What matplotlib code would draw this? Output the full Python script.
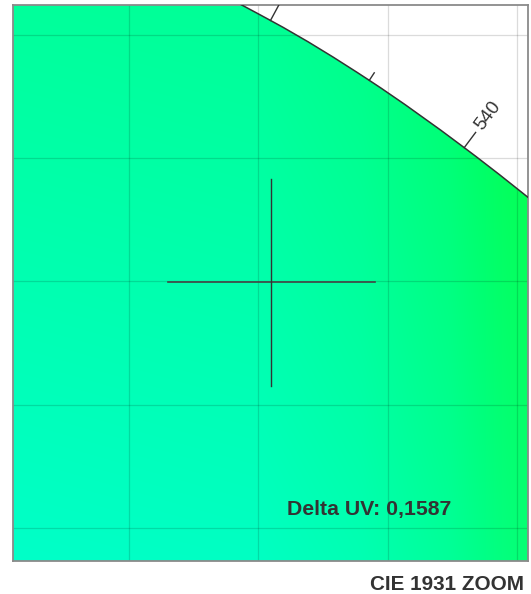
import numpy as np
import matplotlib
matplotlib.use("Agg")
import matplotlib.pyplot as plt
from matplotlib.path import Path
from matplotlib.patches import PathPatch

# CIE 1931 spectral locus (2 deg observer), chromaticity x, y
wavelengths = [505, 510, 515, 520, 525, 530, 535, 540, 545, 550, 555, 560]
locus_x = [0.0039, 0.0139, 0.0389, 0.0743, 0.1142, 0.1547, 0.1929, 0.2296, 0.2658, 0.3016, 0.3373, 0.3731]
locus_y = [0.6548, 0.7502, 0.8120, 0.8338, 0.8262, 0.8059, 0.7816, 0.7543, 0.7243, 0.6923, 0.6589, 0.6245]

# measured point (crosshair) and result text
point_x = 0.155
point_y = 0.6996
delta_uv = "0,1587"

title = "CIE 1931 ZOOM"

W, H = 531, 594
fig = plt.figure(figsize=(W / 100, H / 100), dpi=100)
ax = fig.add_axes([13 / W, 33 / H, 515 / W, 556 / H])
xlim = (0.05516, 0.25425)
ylim = (0.58661, 0.81217)
ax.set_xlim(*xlim)
ax.set_ylim(*ylim)


def smooth_path(xs, ys, extra=None):
    """Catmull-Rom curve through the data points, as cubic Bezier segments."""
    P = np.column_stack([xs, ys])
    verts = [P[0]]
    codes = [Path.MOVETO]
    n = len(P)
    for i in range(n - 1):
        p0 = P[max(i - 1, 0)]
        p1 = P[i]
        p2 = P[i + 1]
        p3 = P[min(i + 2, n - 1)]
        c1 = p1 + (p2 - p0) / 6.0
        c2 = p2 - (p3 - p1) / 6.0
        verts += [c1, c2, p2]
        codes += [Path.CURVE4] * 3
    if extra is not None:
        for e in extra:
            verts.append(e)
            codes.append(Path.LINETO)
        verts.append(P[0])
        codes.append(Path.CLOSEPOLY)
    return Path(np.array(verts), codes)


# colour gradient fill inside the locus
nx, ny = 300, 300
gx = np.linspace(xlim[0], xlim[1], nx)
gy = np.linspace(ylim[0], ylim[1], ny)
X, Y = np.meshgrid(gx, gy)
gB = np.interp(X, [0.05, 0.15, 0.19, 0.224, 0.243, 0.26], [178, 172, 156, 130, 106, 88])
B = np.clip(gB - 200 * (Y - 0.70), 0, 255)
R = np.interp(X, [0.235, 0.26], [0, 8])
G = np.full_like(X, 255.0)
img = np.dstack([R, G, B]) / 255.0
im = ax.imshow(img, extent=[xlim[0], xlim[1], ylim[0], ylim[1]], origin="lower",
               aspect="auto", interpolation="bilinear", zorder=0)
clip = PathPatch(smooth_path(locus_x, locus_y, extra=[(0.45, 0.50), (-0.05, 0.50)]),
                 transform=ax.transData, facecolor="none", edgecolor="none")
ax.add_patch(clip)
im.set_clip_path(clip)

# grid
ax.set_xticks(np.arange(0.10, 0.26, 0.05))
ax.set_yticks(np.arange(0.60, 0.81, 0.05))
ax.tick_params(length=0, labelbottom=False, labelleft=False)
ax.grid(True, color="black", alpha=0.14, linewidth=0.9)
for s in ax.spines.values():
    s.set_color("#8a8a8a")
    s.set_linewidth(1.3)

# spectral locus
ax.add_patch(PathPatch(smooth_path(locus_x, locus_y), facecolor="none",
                       edgecolor="#333333", linewidth=1.1, zorder=3))

# wavelength ticks (normal to curve)
inv = ax.transData.inverted()
pts_disp = ax.transData.transform(np.column_stack([locus_x, locus_y]))
ax_bbox = ax.get_window_extent()
for i, wl in enumerate(wavelengths):
    if i == 0 or i == len(wavelengths) - 1:
        continue
    t = pts_disp[i + 1] - pts_disp[i - 1]
    t = t / np.hypot(*t)
    n = np.array([-t[1], t[0]])
    if n[1] < 0:
        n = -n
    major = (wl % 10 == 0)
    L = 19 if major else 9
    p0 = pts_disp[i]
    p1 = p0 + n * L
    d0, d1 = inv.transform([p0, p1])
    ax.plot([d0[0], d1[0]], [d0[1], d1[1]], color="#333333", linewidth=1.0, zorder=3)
    if major:
        pc = p1 + n * 21
        # only label ticks whose label sits fully inside the plot area
        if not (ax_bbox.x0 + 25 < pc[0] < ax_bbox.x1 - 25 and ax_bbox.y0 + 25 < pc[1] < ax_bbox.y1 - 25):
            continue
        dc = inv.transform(pc)
        ang = np.degrees(np.arctan2(n[1], n[0]))
        ax.text(dc[0], dc[1], str(wl), rotation=ang, rotation_mode="anchor",
                ha="center", va="center", fontsize=13.5, color="#333333",
                family="Liberation Sans", zorder=4)

# crosshair
arm_x = 0.040
arm_y = 0.042
ax.plot([point_x - arm_x, point_x + arm_x], [point_y, point_y], color="#444444", linewidth=1.2, zorder=4)
ax.plot([point_x, point_x], [point_y - arm_y, point_y + arm_y], color="#333333", linewidth=1.0, zorder=4)

ax.text(274 / 515, 46 / 556, "Delta UV: " + delta_uv, transform=ax.transAxes,
        ha="left", va="baseline", fontsize=15.3, fontweight="bold",
        color="#333333", family="Liberation Sans", zorder=5)

fig.text(524 / W, 4 / H, title, ha="right", va="baseline", fontsize=14.9,
         fontweight="bold", color="#333333", family="Liberation Sans")

fig.savefig("out.png", dpi=100)
